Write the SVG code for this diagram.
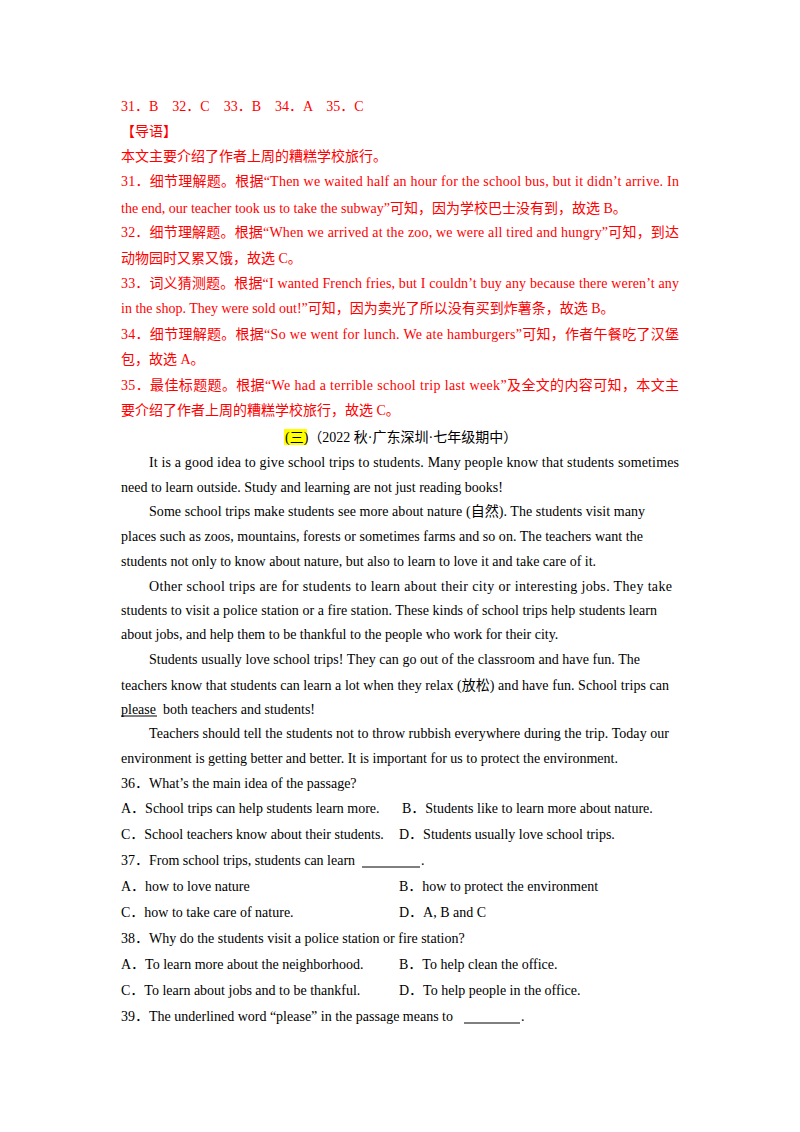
<svg xmlns="http://www.w3.org/2000/svg" width="800" height="1132" viewBox="0 0 800 1132">
<style>
text{font-family:"Liberation Serif","Noto Sans CJK SC",serif;font-size:14px;fill:#000}
.r{fill:#ff0000}
</style>
<rect width="800" height="1132" fill="#fff"/>
<g class="r">
<text class="r" x="121" y="111" xml:space="preserve">31．B    32．C    33．B    34．A    35．C</text>
<text class="r" x="121" y="136">【导语】</text>
<text class="r" x="121" y="161">本文主要介绍了作者上周的糟糕学校旅行。</text>
<text class="r" x="121" y="186" textLength="558">31．细节理解题。根据“Then we waited half an hour for the school bus, but it didn’t arrive. In</text>
<text class="r" x="121" y="213">the end, our teacher took us to take the subway”可知，因为学校巴士没有到，故选 B。</text>
<text class="r" x="121" y="237" textLength="558">32．细节理解题。根据“When we arrived at the zoo, we were all tired and hungry”可知，到达</text>
<text class="r" x="121" y="263">动物园时又累又饿，故选 C。</text>
<text class="r" x="121" y="288" textLength="558">33．词义猜测题。根据“I wanted French fries, but I couldn’t buy any because there weren’t any</text>
<text class="r" x="121" y="313">in the shop. They were sold out!”可知，因为卖光了所以没有买到炸薯条，故选 B。</text>
<text class="r" x="121" y="339" textLength="558">34．细节理解题。根据“So we went for lunch. We ate hamburgers”可知，作者午餐吃了汉堡</text>
<text class="r" x="121" y="364">包，故选 A。</text>
<text class="r" x="121" y="390" textLength="558">35．最佳标题题。根据“We had a terrible school trip last week”及全文的内容可知，本文主</text>
<text class="r" x="121" y="415">要介绍了作者上周的糟糕学校旅行，故选 C。</text>
</g>
<rect x="284" y="429" width="23" height="16" fill="#ffff00"/>
<text x="285" y="442">(三)（2022 秋·广东深圳·七年级期中）</text>
<text x="149" y="467" textLength="530">It is a good idea to give school trips to students. Many people know that students sometimes</text>
<text x="121" y="492">need to learn outside. Study and learning are not just reading books!</text>
<text x="149" y="516" textLength="496">Some school trips make students see more about nature (自然). The students visit many</text>
<text x="121" y="541" textLength="522">places such as zoos, mountains, forests or sometimes farms and so on. The teachers want the</text>
<text x="121" y="566">students not only to know about nature, but also to learn to love it and take care of it.</text>
<text x="149" y="591" textLength="523">Other school trips are for students to learn about their city or interesting jobs. They take</text>
<text x="121" y="615" textLength="536">students to visit a police station or a fire station. These kinds of school trips help students learn</text>
<text x="121" y="639">about jobs, and help them to be thankful to the people who work for their city.</text>
<text x="149" y="664" textLength="491">Students usually love school trips! They can go out of the classroom and have fun. The</text>
<text x="121" y="690" textLength="548">teachers know that students can learn a lot when they relax (放松) and have fun. School trips can</text>
<text x="121" y="714" xml:space="preserve">please  both teachers and students!</text>
<line x1="121" y1="716" x2="157" y2="716" stroke="#000" stroke-width="1"/>
<text x="149" y="738" textLength="520">Teachers should tell the students not to throw rubbish everywhere during the trip. Today our</text>
<text x="121" y="763">environment is getting better and better. It is important for us to protect the environment.</text>
<text x="121" y="788">36．What’s the main idea of the passage?</text>
<text x="121" y="813">A．School trips can help students learn more.</text>
<text x="402" y="813">B．Students like to learn more about nature.</text>
<text x="121" y="839">C．School teachers know about their students.</text>
<text x="399" y="839">D．Students usually love school trips.</text>
<text x="121" y="865">37．From school trips, students can learn</text>
<line x1="362" y1="867" x2="420" y2="867" stroke="#000"/>
<text x="421" y="865">.</text>
<text x="121" y="891">A．how to love nature</text>
<text x="399" y="891">B．how to protect the environment</text>
<text x="121" y="917">C．how to take care of nature.</text>
<text x="399" y="917">D．A, B and C</text>
<text x="121" y="943">38．Why do the students visit a police station or fire station?</text>
<text x="121" y="969">A．To learn more about the neighborhood.</text>
<text x="399" y="969">B．To help clean the office.</text>
<text x="121" y="995">C．To learn about jobs and to be thankful.</text>
<text x="399" y="995">D．To help people in the office.</text>
<text x="121" y="1021">39．The underlined word “please” in the passage means to</text>
<line x1="464" y1="1023" x2="520" y2="1023" stroke="#000"/>
<text x="521" y="1021">.</text>
</svg>
